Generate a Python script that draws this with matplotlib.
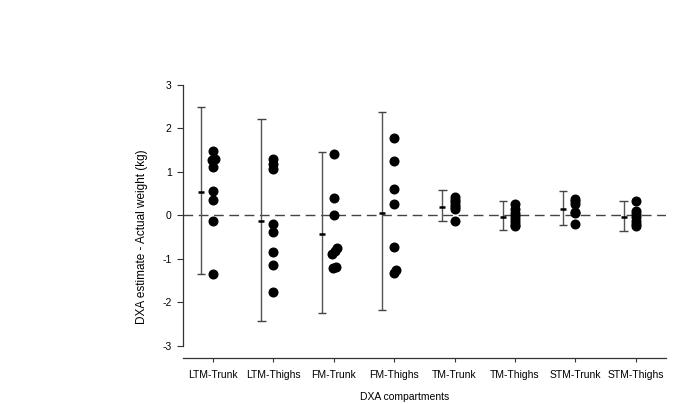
import matplotlib.pyplot as plt

plt.rcParams['font.family'] = ['Liberation Sans', 'DejaVu Sans']
plt.rcParams['axes.unicode_minus'] = False

categories = ['LTM-Trunk', 'LTM-Thighs', 'FM-Trunk', 'FM-Thighs',
              'TM-Trunk', 'TM-Thighs', 'STM-Trunk', 'STM-Thighs']

# individual differences (kg) per compartment
diffs = [
    [1.49, 1.29, 1.27, 1.11, 0.57, 0.35, -0.14, -1.36],
    [1.30, 1.18, 1.07, -0.21, -0.38, -0.85, -1.15, -1.76],
    [1.40, 0.40, 0.00, -0.76, -0.82, -0.90, -1.20, -1.22],
    [1.77, 1.25, 0.60, 0.25, -0.73, -1.25, -1.32],
    [0.42, 0.36, 0.30, 0.24, 0.18, 0.15, -0.12],
    [0.27, 0.15, 0.05, -0.02, -0.08, -0.15, -0.22, -0.25],
    [0.38, 0.33, 0.27, 0.08, 0.05, -0.21],
    [0.32, 0.10, 0.03, -0.05, -0.12, -0.19, -0.25],
]
# small horizontal nudges for overlapping points (same order as diffs)
nudges = [
    [0, 0.04, -0.01, 0, 0, 0, 0, 0],
    [0, 0, 0, 0, 0, 0, 0, 0],
    [0, 0, 0, 0.05, 0.02, -0.03, 0.03, -0.01],
    [0, 0, 0, 0, 0, 0.03, -0.01],
    [0, 0, 0, 0, 0, 0, 0],
    [0, 0, 0, 0, 0, 0, 0, 0],
    [0, 0, 0, 0, 0, 0],
    [0, 0, 0, 0, 0, 0, 0],
]

# mean bias and limits of agreement
mean_bias = [0.53, -0.14, -0.44, 0.06, 0.20, -0.05, 0.14, -0.05]
upper_loa = [2.49, 2.22, 1.46, 2.37, 0.59, 0.32, 0.55, 0.34]
lower_loa = [-1.35, -2.43, -2.24, -2.17, -0.12, -0.34, -0.22, -0.36]

fig = plt.figure(figsize=(6.85, 4.04), dpi=100)
ax = fig.add_axes([0.267, 0.114, 0.705, 0.676])

pos = list(range(1, len(categories) + 1))
bar_x = [p - 0.2 for p in pos]

ax.axhline(0, color='#444444', lw=1.0, ls=(0, (7, 4)), zorder=1)

for i, p in enumerate(pos):
    xs = [p + n for n in nudges[i]]
    ax.plot(xs, diffs[i], 'o', color='black', ms=6.2, zorder=3)

ax.vlines(bar_x, lower_loa, upper_loa, color='#555555', lw=1.0, zorder=2)
ax.hlines(upper_loa, [b - 0.07 for b in bar_x], [b + 0.07 for b in bar_x],
          color='#444444', lw=1.0, zorder=2)
ax.hlines(lower_loa, [b - 0.07 for b in bar_x], [b + 0.07 for b in bar_x],
          color='#444444', lw=1.0, zorder=2)
ax.hlines(mean_bias, [b - 0.05 for b in bar_x], [b + 0.05 for b in bar_x],
          color='black', lw=1.8, zorder=2)

ax.set_xlim(0.5, 8.5)
ax.set_ylim(-3.28, 3.0)
ax.set_yticks([-3, -2, -1, 0, 1, 2, 3])
ax.set_xticks(pos)
ax.set_xticklabels(categories)

ax.spines['top'].set_visible(False)
ax.spines['right'].set_visible(False)
ax.spines['left'].set_bounds(-3, 3)
for s in ['left', 'bottom']:
    ax.spines[s].set_color('#333333')
    ax.spines[s].set_linewidth(0.9)
ax.tick_params(axis='y', length=4, width=0.8, labelsize=7.5, pad=4, color='#333333')
ax.tick_params(axis='x', length=3, width=0.8, labelsize=7.5, pad=6, color='#333333')

ax.set_ylabel('DXA estimate - Actual weight (kg)', fontsize=8.5)
ax.yaxis.set_label_coords(-0.072, 0.443)
ax.set_xlabel('DXA compartments', fontsize=7.5)
ax.xaxis.set_label_coords(0.46, -0.125)

plt.savefig('out.png', dpi=100)
